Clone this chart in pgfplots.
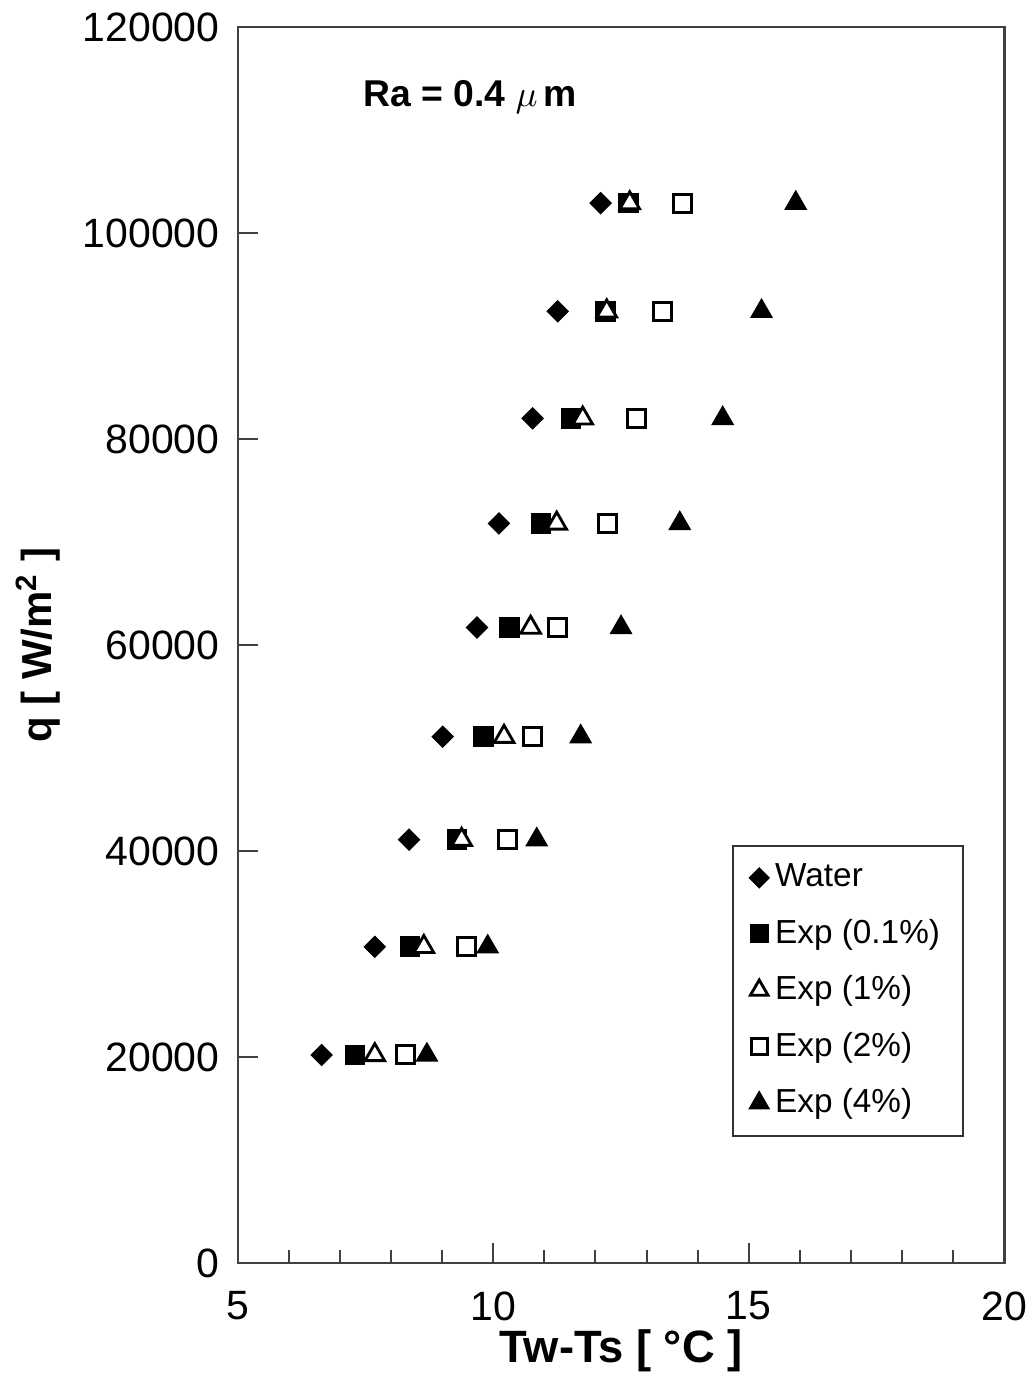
\documentclass[border=0pt]{standalone}
\usepackage{pgfplots}
\pgfplotsset{compat=1.18}
\usepackage{fontspec}
\setmainfont{Liberation Sans}
\begin{document}
\begin{tikzpicture}
\begin{axis}[
  scale only axis,
  width=230pt, height=371pt,
  xmin=5, xmax=20, ymin=0, ymax=120000,
  xtick={5,10,15,20},
  ytick={0,20000,40000,60000,80000,100000,120000},
  minor x tick num=4,
  tick align=inside,
  xtick pos=bottom, ytick pos=left,
  major tick length=6pt, minor tick length=4pt,
  axis line style={line width=0.8pt, black!75},
  tick style={line width=0.6pt, black!75},
  scaled y ticks=false,
  /pgf/number format/assume math mode=true,
  yticklabel={\pgfmathprintnumber[fixed,1000 sep={}]{\tick}},
  ticklabel style={font=\fontsize{12.3}{14}\selectfont},
  xticklabel style={yshift=-5pt},
  yticklabel style={xshift=-2pt},
  xlabel={\textbf{Tw-Ts [ °C ]}},
  ylabel={\textbf{q [ W/m\textsuperscript{2} ]}},
  xlabel style={font=\fontsize{13.6}{16}\selectfont, yshift=4pt},
  ylabel style={font=\fontsize{12.6}{15}\selectfont, yshift=0pt},
  legend style={at={(rel axis cs:0.948,0.102)}, anchor=south east,
    font=\fontsize{10}{12}\selectfont, draw=black!80, line width=0.6pt,
    row sep=4.2pt, inner ysep=3.5pt, inner xsep=5pt,
    legend cell align=left},
  legend image post style={scale=0.9},
]
\coordinate (bl) at (rel axis cs:0,0);
\coordinate (tr) at (rel axis cs:1,1);
\addplot[only marks, mark=square*, mark size=2.2pt, mark options={fill=black, draw=black, rotate=45}]
 coordinates {(12.10,102900)(11.26,92400)(10.77,82000)(10.11,71800)(9.68,61700)(9.01,51100)(8.35,41100)(7.68,30700)(6.64,20200)};
\addlegendentry{Water}
\addplot[only marks, mark=square*, mark size=2.9pt, mark options={fill=black, draw=black}]
 coordinates {(12.65,102900)(12.20,92400)(11.52,82000)(10.93,71800)(10.32,61700)(9.81,51100)(9.29,41100)(8.37,30700)(7.29,20200)};
\addlegendentry{Exp (0.1\%)}
\addplot[only marks, mark=triangle*, mark size=3.4pt, mark options={fill=white, draw=black, line width=0.85pt}]
 coordinates {(12.67,102900)(12.22,92400)(11.75,82000)(11.24,71800)(10.73,61700)(10.21,51100)(9.38,41100)(8.64,30700)(7.68,20200)};
\addlegendentry{Exp (1\%)}
\addplot[only marks, mark=square, mark size=2.7pt, mark options={draw=black, line width=0.9pt}]
 coordinates {(13.71,102900)(13.32,92400)(12.81,82000)(12.24,71800)(11.26,61700)(10.77,51100)(10.28,41100)(9.48,30700)(8.29,20200)};
\addlegendentry{Exp (2\%)}
\addplot[only marks, mark=triangle*, mark size=3.6pt, mark options={fill=black, draw=black}]
 coordinates {(15.92,102900)(15.25,92400)(14.49,82000)(13.65,71800)(12.50,61700)(11.71,51100)(10.85,41100)(9.89,30700)(8.70,20200)};
\addlegendentry{Exp (4\%)}
\node[anchor=west, font=\fontsize{11.2}{13}\selectfont] at (rel axis cs:0.148,0.943) {\textbf{Ra = 0.4 $\mu\,$m}};
\end{axis}
\pgfresetboundingbox
\path ([shift={(-71.4pt,-40.5pt)}]bl) rectangle ([shift={(8.7pt,8.1pt)}]tr);
\end{tikzpicture}
\end{document}
